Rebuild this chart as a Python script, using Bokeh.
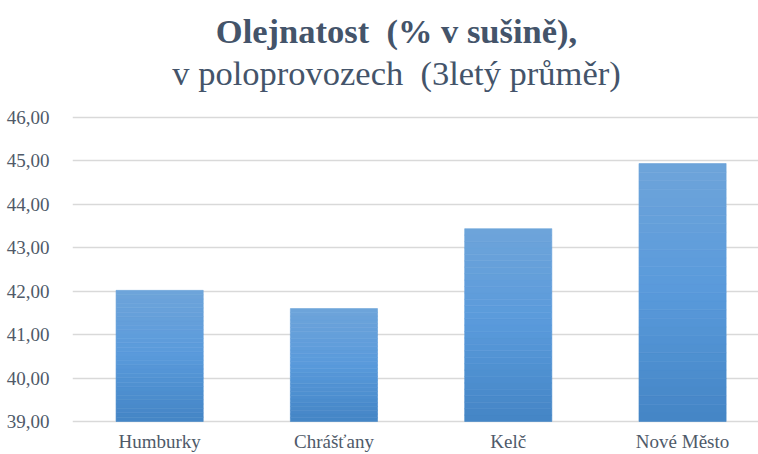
from bokeh.plotting import figure
from bokeh.models import Label, Range1d, FixedTicker, ColumnDataSource
from bokeh.core.properties import value
from bokeh.embed import file_html
from bokeh.resources import INLINE

# ---- data ----
categories = ["Humburky", "Chrášťany", "Kelč", "Nové Město"]
values = [42.02, 41.60, 43.44, 44.94]
y_ticks = [39, 40, 41, 42, 43, 44, 45, 46]
y_tick_labels = ["39,00", "40,00", "41,00", "42,00", "43,00", "44,00", "45,00", "46,00"]
title_main = "Olejnatost \u00a0(% v sušině),"
title_sub = "v poloprovozech \u00a0(3letý průměr)"

BASE = 39
TOP = 46
x_pos = [i + 0.5 for i in range(len(categories))]

# gradient stops (bottom -> top)
stops = [(0.0, (0x44, 0x85, 0xC5)), (0.5, (0x59, 0x9A, 0xDB)), (1.0, (0x6E, 0xA4, 0xDA))]

def grad(t):
    for (t0, c0), (t1, c1) in zip(stops[:-1], stops[1:]):
        if t0 <= t <= t1:
            f = (t - t0) / (t1 - t0)
            c = [round(a + (b - a) * f) for a, b in zip(c0, c1)]
            return "#%02x%02x%02x" % tuple(c)
    return "#%02x%02x%02x" % stops[-1][1]

N = 30
xs, bots, tops, cols = [], [], [], []
for xp, v in zip(x_pos, values):
    for k in range(N):
        xs.append(xp)
        bots.append(BASE + (v - BASE) * k / N)
        tops.append(BASE + (v - BASE) * (k + 1) / N)
        cols.append(grad((k + 0.5) / N))
src = ColumnDataSource(dict(x=xs, bottom=bots, top=tops, color=cols))

# layout (pixels)
W, H = 758, 454
LEFT = 72
PX_PER_UNIT = 304 / 7
y_start = BASE - 33 / PX_PER_UNIT
y_end = TOP + 117 / PX_PER_UNIT
x_end = (W - LEFT) / 174.3

p = figure(width=W, height=H, output_backend="svg", toolbar_location=None,
           title=None, x_range=Range1d(0, x_end), y_range=Range1d(y_start, y_end),
           x_axis_location=None, min_border=0,
           min_border_left=LEFT, min_border_right=0, min_border_top=0, min_border_bottom=0,
           outline_line_color=None)

p.vbar(x="x", bottom="bottom", top="top", width=0.5, source=src,
       fill_color="color", line_color="color", line_width=0.6)

FONT = "Liberation Serif"
TXT = "#44546A"
LBL = "#4F5A69"

# category labels
p.text(x=x_pos, y=[BASE] * len(categories), text=categories,
       text_font=value(FONT), text_font_size="19px", text_color=LBL,
       text_align="center", text_baseline="alphabetic", y_offset=20)

# titles (screen units, relative to the plot frame)
main = Label(x=324, y=H - 30, x_units="screen", y_units="screen", text=title_main,
             text_font=FONT, text_font_size="34.5px", text_font_style="bold",
             text_color=TXT, text_align="center", text_baseline="alphabetic")
sub = Label(x=324, y=H - 72, x_units="screen", y_units="screen", text=title_sub,
            text_font=FONT, text_font_size="34.5px", text_font_style="normal",
            text_color=TXT, text_align="center", text_baseline="alphabetic")
p.add_layout(main)
p.add_layout(sub)

p.xgrid.visible = False
p.ygrid.grid_line_color = "#D9D9D9"
p.ygrid.grid_line_width = 1.3
p.yaxis.ticker = FixedTicker(ticks=y_ticks)
p.ygrid.ticker = FixedTicker(ticks=y_ticks)
p.yaxis.major_label_overrides = {t: l for t, l in zip(y_ticks, y_tick_labels)}

ax = p.yaxis[0]
ax.axis_line_color = None
ax.major_tick_line_color = None
ax.minor_tick_line_color = None
ax.major_label_text_font = FONT
ax.major_label_text_font_size = "19px"
ax.major_label_text_color = LBL
ax.major_label_standoff = 17

open("out.html", "w").write(file_html(p, INLINE))
